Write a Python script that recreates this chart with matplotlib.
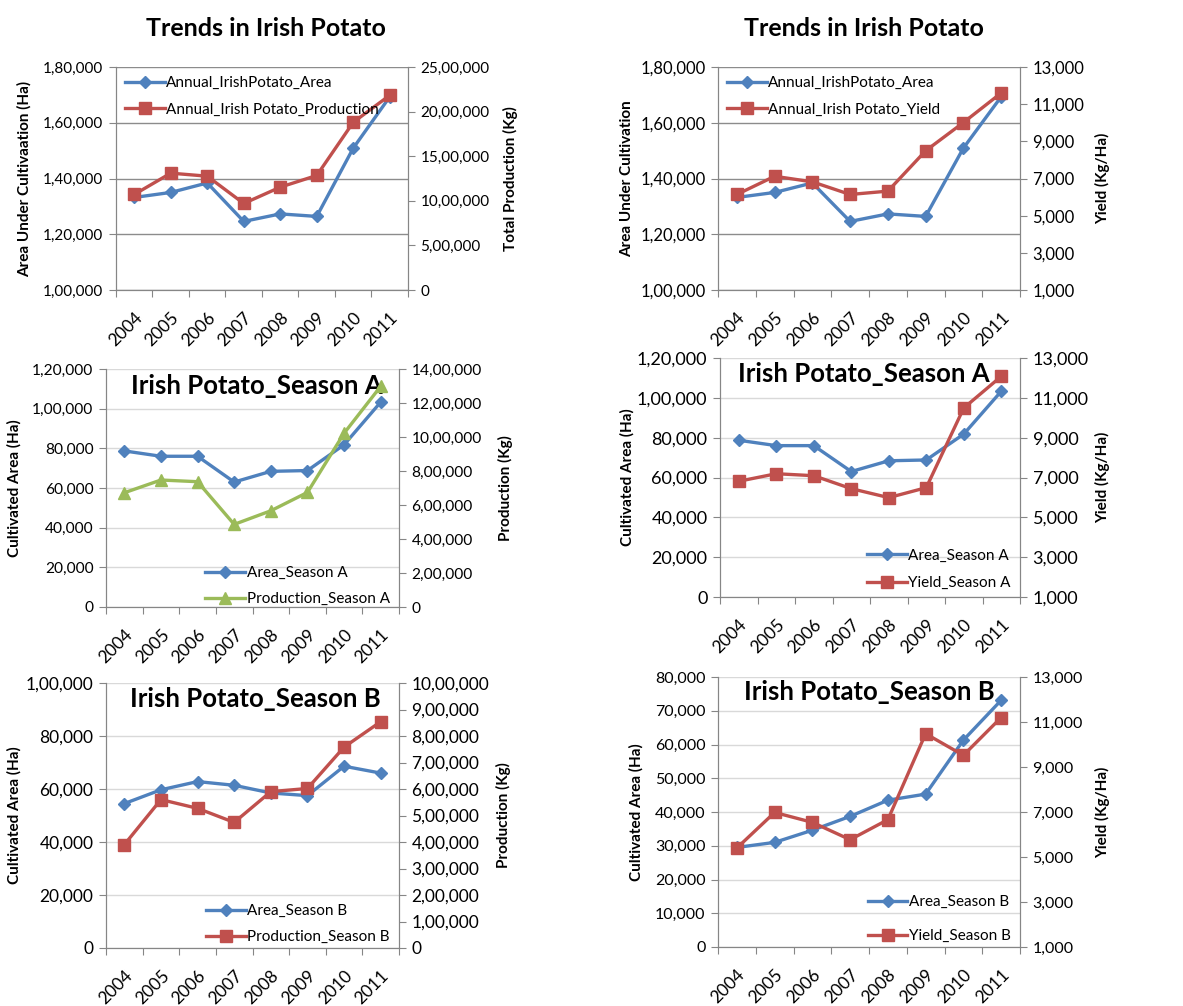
"""Irish potato area / production / yield trends, 2004-2011"""
import matplotlib
matplotlib.use('Agg')
import matplotlib.pyplot as plt
import matplotlib.transforms as mtransforms
from matplotlib.ticker import FuncFormatter, FixedLocator, NullFormatter

plt.rcParams['font.family'] = ['Lato', 'DejaVu Sans']

W, H = 1183, 1006

years = ['2004', '2005', '2006', '2007', '2008', '2009', '2010', '2011']

# annual totals
annual_area = [133200, 135000, 138400, 124600, 127300, 126400, 150900, 169300]
annual_production = [1071000, 1310000, 1276000, 970000, 1153000, 1284000, 1880000, 2183000]
annual_yield = [6140, 7120, 6820, 6140, 6320, 8490, 10010, 11600]

# season A
season_a_area = [78700, 76000, 76000, 63000, 68400, 68800, 81800, 103300]
season_a_production = [672000, 747000, 737000, 486000, 566000, 674000, 1022000, 1298000]
season_a_yield = [6810, 7190, 7090, 6440, 5990, 6490, 10490, 12080]

# season B (the production sheet and the yield sheet carry different area figures)
season_b_area_prod = [54500, 59700, 62800, 61400, 58500, 57500, 68600, 66000]
season_b_production = [390000, 560000, 527000, 474000, 590000, 602000, 758000, 854000]
season_b_area_yield = [29500, 31000, 34600, 38700, 43500, 45300, 61300, 73100]
season_b_yield = [5400, 6980, 6540, 5770, 6660, 10480, 9520, 11200]

BLUE = '#4f81bd'
RED = '#c0504d'
GREEN = '#9bbb59'
AXIS_GREY = '#868686'


def indian_fmt(v, pos=None):
    """1,80,000 style grouping"""
    s = str(int(round(v)))
    if len(s) <= 3:
        return s
    head, tail = s[:-3], s[-3:]
    parts = []
    while len(head) > 2:
        parts.insert(0, head[-2:])
        head = head[:-2]
    if head:
        parts.insert(0, head)
    return ','.join(parts + [tail])


def px_rect(left, top, right, bottom):
    return [left / W, 1 - bottom / H, (right - left) / W, (bottom - top) / H]


def ticks(lo, hi, step):
    vals = []
    v = lo
    while v <= hi + 1e-9:
        vals.append(v)
        v += step
    return vals


def draw_panel(fig, rect, left_series, right_series, left_range, right_range,
               left_label, right_label, left_label_x, right_label_x,
               grid_color, tick_size=11, title=None, title_xy=None,
               legend_loc='upper left', legend_anchor=None, legend_gap=0.8):
    ax = fig.add_axes(px_rect(*rect))
    ax2 = ax.twinx()
    x = list(range(len(years)))

    lname, lvals, lcolor, lmarker, lsize = left_series
    rname, rvals, rcolor, rmarker, rsize = right_series
    h1, = ax.plot(x, lvals, color=lcolor, lw=2.4, marker=lmarker, ms=lsize,
                  mec=lcolor, mfc=lcolor, label=lname, zorder=3)
    h2, = ax2.plot(x, rvals, color=rcolor, lw=2.4, marker=rmarker, ms=rsize,
                   mec=rcolor, mfc=rcolor, label=rname, zorder=3)

    lo, hi, step = left_range
    ax.set_ylim(lo, hi)
    ax.yaxis.set_major_locator(FixedLocator(ticks(lo, hi, step)))
    ax.yaxis.set_major_formatter(FuncFormatter(indian_fmt))
    ax.grid(axis='y', color=grid_color, lw=1.0)
    ax.set_axisbelow(True)

    rlo, rhi, rstep = right_range
    ax2.set_ylim(rlo, rhi)
    ax2.yaxis.set_major_locator(FixedLocator(ticks(rlo, rhi, rstep)))
    ax2.yaxis.set_major_formatter(FuncFormatter(indian_fmt))

    # category boundaries carry the tick marks, centres carry the year labels
    ax.set_xlim(-0.5, len(years) - 0.5)
    ax.xaxis.set_major_locator(FixedLocator([i - 0.5 for i in range(len(years) + 1)]))
    ax.xaxis.set_major_formatter(NullFormatter())
    ax.set_xticks(x, years, minor=True)
    ax.tick_params(axis='x', which='minor', length=0, pad=14, labelsize=12.5)
    ax.tick_params(axis='x', which='major', length=5, color=AXIS_GREY, direction='out')
    for lab in ax.get_xticklabels(minor=True):
        lab.set_rotation(45)
        lab.set_ha('right')
        lab.set_va('top')
        lab.set_rotation_mode('anchor')

    ax.tick_params(axis='y', length=5, color=AXIS_GREY, labelsize=tick_size, pad=4)
    ax2.tick_params(axis='y', length=5, color=AXIS_GREY, labelsize=tick_size, pad=4)

    for a in (ax, ax2):
        for side in ('left', 'right', 'bottom'):
            a.spines[side].set_color(AXIS_GREY)
        a.spines['top'].set_visible(False)

    ax.set_ylabel(left_label, fontsize=11, fontweight='bold')
    ax2.set_ylabel(right_label, fontsize=11, fontweight='bold')
    tr = mtransforms.blended_transform_factory(fig.transFigure, ax.transAxes)
    ax.yaxis.set_label_coords((left_label_x + 7) / W, 0.5, transform=tr)
    ax2.yaxis.set_label_coords((right_label_x - 7) / W, 0.5, transform=tr)

    if title:
        ax2.text(title_xy[0], title_xy[1], title, transform=ax.transAxes,
                 ha='center', va='center', fontsize=18.5, fontweight='bold',
                 zorder=1)

    ax2.legend(handles=[h1, h2], loc=legend_loc, bbox_to_anchor=legend_anchor,
               frameon=False, fontsize=11, handlelength=2.6, handletextpad=0.1,
               labelspacing=legend_gap, borderaxespad=0.2)
    return ax, ax2


fig = plt.figure(figsize=(W / 100, H / 100), dpi=100)

fig.text(266 / W, 1 - 28 / H, 'Trends in Irish Potato', ha='center', va='center',
         fontsize=18, fontweight='bold')
fig.text(864 / W, 1 - 28 / H, 'Trends in Irish Potato', ha='center', va='center',
         fontsize=18, fontweight='bold')

# 1. annual area vs production
draw_panel(fig, (116, 67, 408, 290),
           ('Annual_IrishPotato_Area', annual_area, BLUE, 'D', 6),
           ('Annual_Irish Potato_Production', annual_production, RED, 's', 8),
           (100000, 180000, 20000), (0, 2500000, 500000),
           'Area Under Cultivaation (Ha)', 'Total Production (Kg)', 25, 510,
           '#8c8c8c', tick_size=11)

# 2. annual area vs yield
draw_panel(fig, (718, 67, 1020, 290),
           ('Annual_IrishPotato_Area', annual_area, BLUE, 'D', 6),
           ('Annual_Irish Potato_Yield', annual_yield, RED, 's', 8),
           (100000, 180000, 20000), (1000, 13000, 2000),
           'Area Under Cultivation', 'Yield (Kg/Ha)', 627, 1102,
           '#8c8c8c', tick_size=12)

# 3. season A area vs production
draw_panel(fig, (106, 369, 399, 607),
           ('Area_Season A', season_a_area, BLUE, 'D', 6),
           ('Production_Season A', season_a_production, GREEN, '^', 8),
           (0, 120000, 20000), (0, 1400000, 200000),
           'Cultivated Area (Ha)', 'Production (Kg)', 15, 505,
           '#d9d9d9', tick_size=11.2, title='Irish Potato_Season A',
           title_xy=(0.515, 0.93), legend_loc='lower right',
           legend_anchor=(1.0, -0.035))

# 4. season A area vs yield
draw_panel(fig, (720, 358, 1020, 597),
           ('Area_Season A', season_a_area, BLUE, 'D', 6),
           ('Yield_Season A', season_a_yield, RED, 's', 8),
           (0, 120000, 20000), (1000, 13000, 2000),
           'Cultivated Area (Ha)', 'Yield (Kg/Ha)', 628, 1102,
           '#d9d9d9', tick_size=13, title='Irish Potato_Season A',
           title_xy=(0.48, 0.933), legend_loc='lower right',
           legend_anchor=(1.0, -0.01), legend_gap=0.9)

# 5. season B area vs production
draw_panel(fig, (106, 683, 399, 948),
           ('Area_Season B', season_b_area_prod, BLUE, 'D', 6),
           ('Production_Season B', season_b_production, RED, 's', 8),
           (0, 100000, 20000), (0, 1000000, 100000),
           'Cultivated Area (Ha)', 'Production (Kg)', 15, 503,
           '#d9d9d9', tick_size=12.5, title='Irish Potato_Season B',
           title_xy=(0.51, 0.94), legend_loc='lower right',
           legend_anchor=(1.0, -0.02))

# 6. season B area vs yield
draw_panel(fig, (718, 677, 1020, 947),
           ('Area_Season B', season_b_area_yield, BLUE, 'D', 6),
           ('Yield_Season B', season_b_yield, RED, 's', 8),
           (0, 80000, 10000), (1000, 13000, 2000),
           'Cultivated Area (Ha)', 'Yield (Kg/Ha)', 637, 1102,
           '#d9d9d9', tick_size=11.5, title='Irish Potato_Season B',
           title_xy=(0.5, 0.944), legend_loc='lower right',
           legend_anchor=(1.0, -0.02), legend_gap=1.3)

fig.savefig('out.png', dpi=100, facecolor='white')
